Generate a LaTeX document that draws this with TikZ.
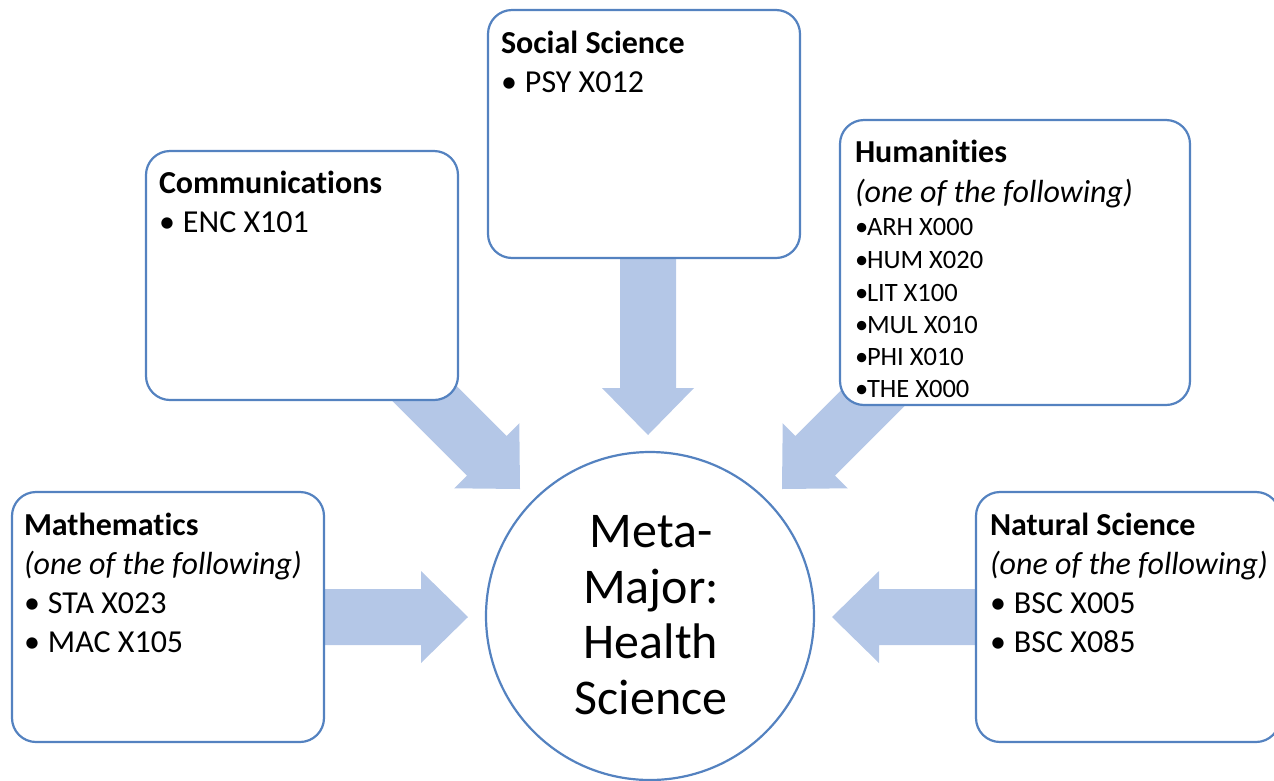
\documentclass[tikz,border=0pt]{standalone}
\usepackage{fontspec}
\setmainfont{Carlito}[Ligatures={NoCommon}]
\definecolor{arrowblue}{RGB}{180,199,231}
\definecolor{edgeblue}{RGB}{84,130,192}
\newcommand\blockarrow[3]{%
  \fill[arrowblue, shift={(#1)}, rotate=#2] (0,0) -- (-47,-46) -- (-47,-28) -- (-#3,-28) -- (-#3,28) -- (-47,28) -- (-47,46) -- cycle;}
\newcommand\bul[1]{\makebox[#1][l]{•}}
\begin{document}
\begin{tikzpicture}[x=1pt,y=-1pt,
  box/.style={draw=edgeblue, line width=2.2pt, fill=white, rounded corners=24pt, inner sep=0pt, outer sep=0pt, anchor=north west},
  txt/.style={anchor=base west, inner sep=0pt, outer sep=0pt, font=\fontsize{32}{38}\selectfont},
  hd/.style={txt, font=\fontsize{32}{38}\selectfont\bfseries},
  it/.style={txt, font=\fontsize{32}{38}\selectfont\itshape},
  sm/.style={txt, font=\fontsize{26.5}{30}\selectfont}]
\useasboundingbox (0,0) rectangle (1274,780);
\clip (0,0) rectangle (1274,780);
% arrow tips
\coordinate (tipL) at (468,617);
\coordinate (tipR) at (832,617);
\coordinate (tipT) at (648,435);
\coordinate (tipC) at (520,489);
\coordinate (tipH) at (782,489);
\blockarrow{tipL}{0}{150}
\blockarrow{tipR}{180}{150}
\blockarrow{tipT}{-90}{185}
\blockarrow{tipC}{-45}{200}
\blockarrow{tipH}{-135}{200}
% centre
\node[draw=edgeblue, line width=2.2pt, fill=white, circle, minimum size=328pt, inner sep=0pt] (hub) at (650,616) {};
\node[align=center, inner sep=0pt, font=\fontsize{50}{55.5}\selectfont] (hubtext) at (651,615) {Meta-\\Major:\\Health\\Science};
% boxes
\node[box, minimum width=312pt, minimum height=250pt] (math) at (12,492) {};
\node[box, minimum width=312pt, minimum height=249pt] (comm) at (146,151) {};
\node[box, minimum width=312pt, minimum height=248pt] (soc) at (488,10) {};
\node[box, minimum width=350pt, minimum height=285pt] (hum) at (840,120) {};
\node[box, minimum width=304pt, minimum height=250pt] (nat) at (976,492) {};
% Mathematics
\node[hd] (m1) at (24,535) {Mathematics};
\node[it] (m2) at (24,574) {(one of the following)};
\node[txt] (m3) at (24,613) {\bul{24pt}STA X023};
\node[txt] (m4) at (24,652) {\bul{24pt}MAC X105};
% Communications
\node[hd] (c1) at (159,193) {Communications};
\node[txt] (c2) at (159,232) {\bul{24pt}ENC X101};
% Social Science
\node[hd] (s1) at (501,53) {Social Science};
\node[txt] (s2) at (501,92) {\bul{24pt}PSY X012};
% Humanities
\node[hd] (h1) at (855,162) {Humanities};
\node[it] (h2) at (855,202) {(one of the following)};
\node[sm] (h3) at (855,235) {\bul{12pt}ARH X000};
\node[sm] (h4) at (855,268) {\bul{12pt}HUM X020};
\node[sm] (h5) at (855,301) {\bul{12pt}LIT X100};
\node[sm] (h6) at (855,333) {\bul{12pt}MUL X010};
\node[sm] (h7) at (855,365) {\bul{12pt}PHI X010};
\node[sm] (h8) at (855,397) {\bul{12pt}THE X000};
% Natural Science
\node[hd] (n1) at (990,535) {Natural Science};
\node[it] (n2) at (990,574) {(one of the following)};
\node[txt] (n3) at (990,613) {\bul{24pt}BSC X005};
\node[txt] (n4) at (990,652) {\bul{24pt}BSC X085};
\end{tikzpicture}
\end{document}
